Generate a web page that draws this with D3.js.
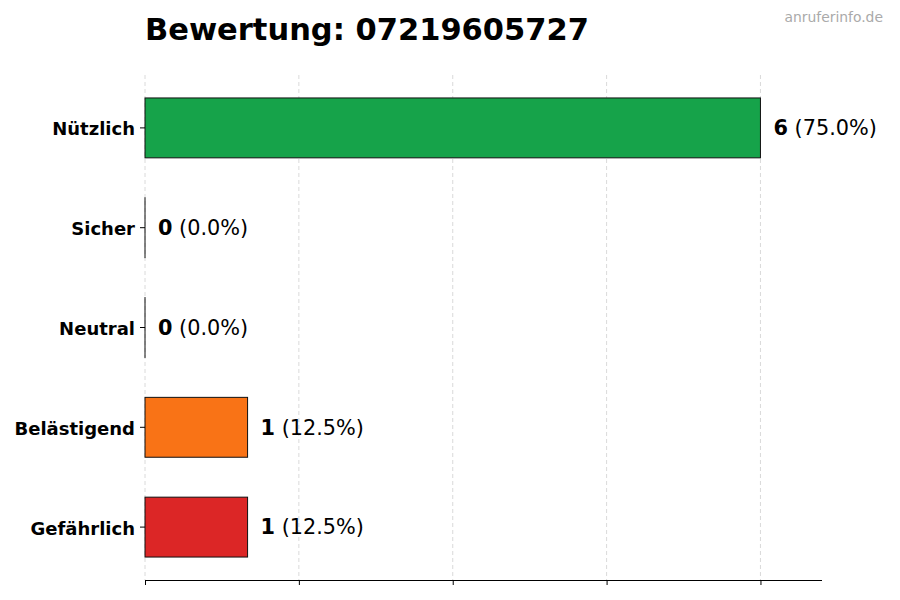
<!DOCTYPE html>
<html>
  <head>
    <meta charset="UTF-8" />
    <title>Bewertung</title>
    <script src="https://d3js.org/d3.v7.min.js"></script>
    <style>
      * { margin: 0; padding: 0; }
      body { background: #ffffff; }
      svg { font-family: "DejaVu Sans", sans-serif; }
      .grid line { stroke: #d0d0d0; stroke-dasharray: 4,3; stroke-width: 0.8; }
    </style>
  </head>
  <body>
    <svg id="chart" width="900" height="600"></svg>
  </body>
  <script>
    const categories = ["Nützlich", "Sicher", "Neutral", "Belästigend", "Gefährlich"];
    const counts = [6, 0, 0, 1, 1];
    const colors = ["#16a34a", "#16a34a", "#6b7280", "#f97316", "#dc2626"];
    const xTicks = [0, 1.5, 3, 4.5, 6];
    const title = "Bewertung: 07219605727";

    const total = d3.sum(counts);
    const svg = d3.select("#chart");
    const plotLeft = 145, plotRight = 822, plotTop = 75, plotBottom = 580;

    const x = d3.scaleLinear().domain([0, 6.6]).range([plotLeft, plotRight]);
    const y = d3.scaleBand().domain(categories).range([plotTop, plotBottom])
      .paddingInner(0.4).paddingOuter(0.23);

    // grid
    svg.append("g").attr("class", "grid")
      .selectAll("line").data(xTicks).join("line")
      .attr("x1", d => x(d)).attr("x2", d => x(d))
      .attr("y1", plotTop).attr("y2", plotBottom);

    // bars (tiny width for zero so the outline still shows)
    svg.append("g").selectAll("rect").data(categories).join("rect")
      .attr("x", x(0))
      .attr("y", d => y(d))
      .attr("width", (d, i) => Math.max(x(counts[i]) - x(0), 0.01))
      .attr("height", y.bandwidth())
      .attr("fill", (d, i) => colors[i])
      .attr("stroke", "#111")
      .attr("stroke-width", 1);

    // x axis
    const xAxis = svg.append("g").attr("transform", `translate(0,${plotBottom})`)
      .call(d3.axisBottom(x).tickValues(xTicks).tickFormat("").tickSizeOuter(0).tickSize(5));
    xAxis.select(".domain").attr("d", `M${plotLeft},0.5H${plotRight}`).attr("stroke", "#000").attr("stroke-width", 1.2);
    xAxis.selectAll(".tick line").attr("stroke", "#000");

    // y axis
    const yAxis = svg.append("g").attr("transform", `translate(${plotLeft},0)`)
      .call(d3.axisLeft(y).tickSize(5).tickPadding(6));
    yAxis.select(".domain").remove();
    yAxis.selectAll(".tick line").attr("stroke", "#000");
    yAxis.selectAll(".tick text")
      .attr("x", -10)
      .attr("dy", "0.42em")
      .attr("font-family", "DejaVu Sans, sans-serif")
      .attr("font-size", 18).attr("font-weight", "bold").attr("fill", "#000");

    // value labels
    const labels = svg.append("g").selectAll("text").data(categories).join("text")
      .attr("x", (d, i) => x(counts[i]) + 13)
      .attr("y", d => y(d) + y.bandwidth() / 2)
      .attr("dy", "0.35em")
      .attr("font-size", 20.8)
      .attr("fill", "#000");
    labels.append("tspan").attr("font-weight", "bold").text((d, i) => counts[i]);
    labels.append("tspan").text((d, i) => " (" + (counts[i] / total * 100).toFixed(1) + "%)");

    // title
    svg.append("text").attr("x", plotLeft).attr("y", 40)
      .attr("font-size", 30.5).attr("font-weight", "bold").attr("fill", "#000")
      .text(title);

    // watermark
    svg.append("text").attr("x", 883).attr("y", 22).attr("text-anchor", "end")
      .attr("font-size", 13.9).attr("fill", "#aaaaaa")
      .text("anruferinfo.de");
  </script>
</html>
